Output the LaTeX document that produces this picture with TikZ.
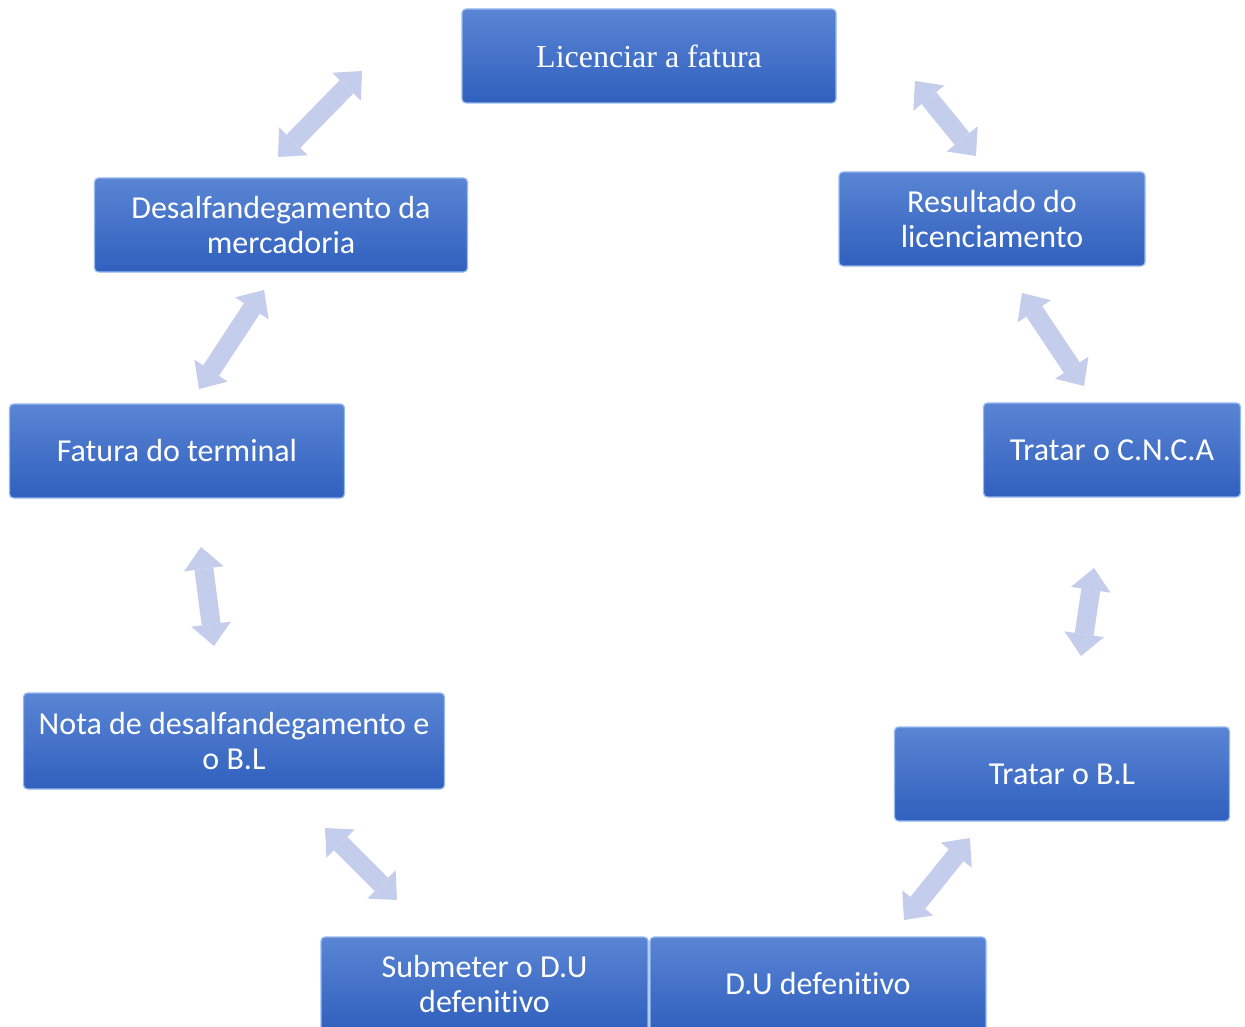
\documentclass[tikz,border=0pt]{standalone}
\usepackage{fontspec}
\setmainfont{Carlito}[Ligatures=NoCommon]
\newfontfamily\serifface{Liberation Serif}
\usetikzlibrary{arrows.meta}

\definecolor{boxtop}{RGB}{90,133,212}
\definecolor{boxbottom}{RGB}{48,96,190}
\definecolor{boxedge}{RGB}{150,185,240}
\definecolor{arrowfill}{RGB}{196,205,236}

\tikzset{
    stepbox/.style={rectangle, rounded corners=4pt, top color=boxtop, bottom color=boxbottom,
        draw=boxedge, line width=1.2pt, text=white, align=center, inner sep=0pt,
        minimum height=94pt, font=\fontsize{32}{35}\selectfont},
    flow/.style={draw=arrowfill, line width=19pt,
        {Triangle[width=40pt,length=22pt,line width=0pt]}-{Triangle[width=40pt,length=22pt,line width=0pt]}},
}

\begin{document}
\begin{tikzpicture}[x=1pt, y=-1pt]
    \useasboundingbox (0,0) rectangle (1245,1027);

    \def\link#1#2{%
        \draw[flow] (#1) -- (#2);
    }

    % top row
    \node[stepbox, minimum width=374pt, font=\serifface\fontsize{32}{35}\selectfont] (licencia) at (649,56) {Licenciar a fatura};

    % right side, going down
    \node[stepbox, minimum width=306pt] (resultado) at (992,219) {Resultado do\\licenciamento};
    \node[stepbox, minimum width=257pt] (cnca) at (1112,450) {Tratar o C.N.C.A};
    \node[stepbox, minimum width=335pt] (tratarbl) at (1062,774) {Tratar o B.L};

    % left side, going down
    \node[stepbox, minimum width=373pt] (desalf) at (281,225) {Desalfandegamento da\\mercadoria};
    \node[stepbox, minimum width=335pt] (fatura) at (177,451) {Fatura do terminal};
    \node[stepbox, minimum width=421pt, minimum height=96pt] (nota) at (234,741) {Nota de desalfandegamento e\\o B.L};

    % bottom row
    \node[stepbox, minimum width=327pt] (submeter) at (484.5,984) {Submeter o D.U\\defenitivo};
    \node[stepbox, minimum width=336pt] (dudef) at (818,984) {D.U defenitivo};

    % arrow ends
    \coordinate (a1s) at (278,157);  \coordinate (a1e) at (362,71);
    \coordinate (a2s) at (915,81);   \coordinate (a2e) at (976,156);
    \coordinate (a3s) at (199,389);  \coordinate (a3e) at (264,290);
    \coordinate (a4s) at (1022,293); \coordinate (a4e) at (1084,386);
    \coordinate (a5s) at (201,547);  \coordinate (a5e) at (214,646);
    \coordinate (a6s) at (1094,568); \coordinate (a6e) at (1081,656);
    \coordinate (a7s) at (325,828);  \coordinate (a7e) at (397,900);
    \coordinate (a8s) at (904,920);  \coordinate (a8e) at (970,838);

    \link{a1s}{a1e}
    \link{a2s}{a2e}
    \link{a3s}{a3e}
    \link{a4s}{a4e}
    \link{a5s}{a5e}
    \link{a6s}{a6e}
    \link{a7s}{a7e}
    \link{a8s}{a8e}
\end{tikzpicture}
\end{document}
